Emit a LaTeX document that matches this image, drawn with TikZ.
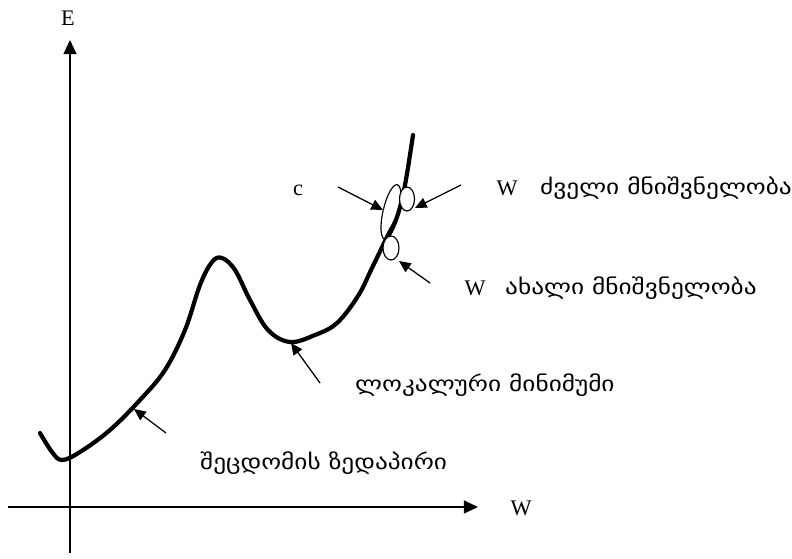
\documentclass[tikz,border=0pt]{standalone}
\usepackage{fontspec}
\setmainfont{Liberation Serif}
\newfontfamily\geo[FakeStretch=1.2]{DejaVu Sans}
\usetikzlibrary{arrows.meta}

\tikzset{
  axis/.style={line width=1.2pt, -{Triangle[length=12pt,width=11pt]}},
  surface/.style={line width=3.6pt, line cap=round, line join=round},
  pointer/.style={line width=1.1pt, -{Triangle[length=10pt,width=9pt]}},
  lbl/.style={font=\fontsize{19}{22}\selectfont, inner sep=0pt},
  geolbl/.style={font=\geo\fontsize{18}{21}\selectfont, inner sep=0pt, anchor=west},
}

\begin{document}
\begin{tikzpicture}[x=0.03cm, y=0.03cm]
        % pixel grid of the reference, y upwards
        \useasboundingbox (0,0) rectangle (792,558);

        % assi
        \coordinate (ybot) at (70,5);
        \coordinate (ytop) at (70,518);
        \coordinate (xleft) at (8,51);
        \coordinate (xright) at (478,51);
        \draw[axis] (ybot) -- (ytop);
        \draw[axis] (xleft) -- (xright);
        \node[lbl] (E) at (68,540) {E};
        \node[lbl] (Waxis) at (521,50) {W};

        % superficie dell'errore
        \draw[surface] plot[smooth, tension=0.6] coordinates {
          (40,125) (52,106) (62,98) (80,106) (110,128) (140,158) (165,188)
          (185,228) (200,273) (212,296) (222,300) (235,288) (250,258)
          (268,228) (290,216) (315,223) (337,235) (358,262) (372,290)
          (387,321) (397,341) (405,373) (413,423)};

        % ellissi: c, W vecchio, W nuovo
        \draw[line width=1pt] (391,346) ellipse[x radius=28, y radius=8, rotate=77];
        \draw[line width=1pt, fill=white] (407,359) ellipse[x radius=7.5, y radius=12];
        \draw[line width=1pt, fill=white] (391,310) ellipse[x radius=8, y radius=12];

        % etichette
        \node[lbl] (c) at (298,368) {c};
        \node[lbl] (Wold) at (507,370) {W};
        \node[geolbl] (old) at (540,370) {ძველი მნიშვნელობა};
        \node[lbl] (Wnew) at (475,270) {W};
        \node[geolbl] (new) at (505,270) {ახალი მნიშვნელობა};
        \node[geolbl] (locmin) at (355,173) {ლოკალური მინიმუმი};
        \node[geolbl] (errsurf) at (200,95) {შეცდომის ზედაპირი};

        % frecce
        \coordinate (cA) at (338,371);   \coordinate (cB) at (383,348);
        \coordinate (oA) at (461,373);   \coordinate (oB) at (415,350);
        \coordinate (nA) at (430,275);   \coordinate (nB) at (399,297);
        \coordinate (lA) at (320,175);   \coordinate (lB) at (291,215);
        \coordinate (sA) at (166,125);   \coordinate (sB) at (134,149);
        \draw[pointer] (cA) -- (cB);
        \draw[pointer] (oA) -- (oB);
        \draw[pointer] (nA) -- (nB);
        \draw[pointer] (lA) -- (lB);
        \draw[pointer] (sA) -- (sB);
\end{tikzpicture}
\end{document}
